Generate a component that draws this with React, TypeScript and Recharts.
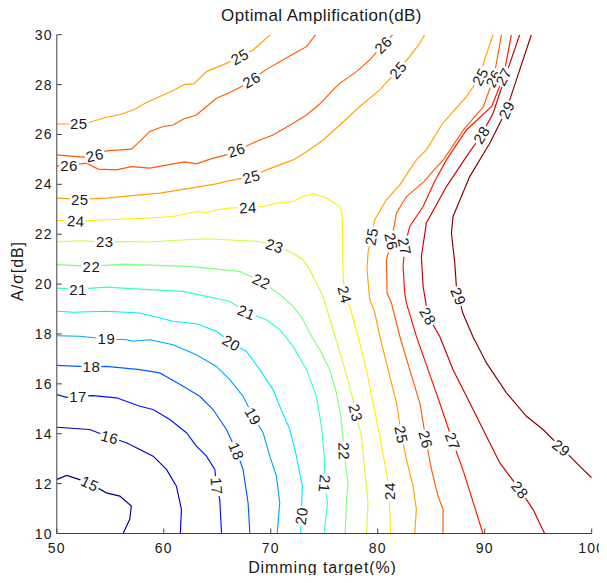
import React from 'react';
import { ComposedChart, Line, Scatter, XAxis, YAxis } from 'recharts';

type P = [number, number];

const xTicks = [50, 60, 70, 80, 90, 100];
const yTicks = [10, 12, 14, 16, 18, 20, 22, 24, 26, 28, 30];

const c15: P[] = [[50,12.17],[50.93,12.33],[52.2,12.15],[53.08,12.0],[54.64,11.63],[55.89,11.5],[56.97,11.1],[56.82,10.57],[56.2,10]];
const c16: P[] = [[50,14.26],[53.08,14.17],[54.95,13.86],[56.51,13.64],[57.76,13.37],[59,13.1],[60.25,12.57],[61.18,11.9],[61.65,10.97],[61.55,10]];
const c17: P[] = [[50,15.57],[50.93,15.46],[51.99,15.5],[53.39,15.53],[55.58,15.44],[57.76,15.1],[59,14.97],[60.56,14.57],[62.12,14.04],[63.05,13.5],[63.99,13.1],[64.77,12.57],[64.95,11.9],[65.23,11.37],[65.4,10]];
const c18: P[] = [[50,16.74],[53.24,16.68],[54.64,16.7],[57.76,16.57],[59.63,16.44],[61.81,15.9],[63.36,15.5],[64.61,14.97],[65.86,14.17],[66.8,13.3],[67.41,12.57],[67.88,11.23],[68.05,10]];
const c19: P[] = [[50,17.93],[52.15,17.91],[54.64,17.8],[56.51,17.77],[57.13,17.71],[58.69,17.77],[60.87,17.57],[63.05,17.17],[64.92,16.7],[66.17,16.17],[67.41,15.5],[68.35,14.7],[69.29,14.04],[69.91,13.1],[70.53,12.3],[70.84,11.23],[70.6,10]];
const c20: P[] = [[50,18.91],[51.53,18.87],[54.64,18.91],[57.76,18.84],[60.87,18.51],[63.05,18.41],[64.92,18.11],[66.33,17.64],[67.73,17.3],[68.97,16.57],[70.22,15.77],[70.84,15.1],[71.78,14.17],[72.4,13.1],[72.95,11.9],[72.85,10.7],[72.8,10]];
const c21: P[] = [[50,19.84],[51.99,19.8],[54.64,19.88],[57.76,19.8],[61.81,19.71],[63.99,19.51],[66.17,19.31],[67.73,18.87],[69.6,18.57],[70.84,18.17],[72.09,17.5],[73.34,16.57],[74.27,15.5],[74.74,14.3],[75,13.1],[75.05,12],[75.3,11.23],[75,10]];
const c22: P[] = [[50,20.78],[53.24,20.71],[56.2,20.8],[59.32,20.75],[62.43,20.71],[64.92,20.6],[67.1,20.51],[69.13,20.11],[70.84,19.58],[72.09,19.11],[73.03,18.57],[73.64,18.04],[74.58,17.37],[75.51,16.57],[76.14,15.64],[76.6,14.57],[76.85,13.3],[77.22,12.03],[77.07,11.23],[76.95,10]];
const c23: P[] = [[50,21.69],[52.15,21.74],[54.49,21.7],[56.51,21.71],[58.69,21.69],[60.87,21.75],[63.99,21.82],[67.1,21.75],[68.97,21.71],[70.37,21.54],[71.78,21.31],[73.03,20.98],[73.64,20.58],[74.27,20.04],[74.89,19.51],[75.82,18.18],[76.76,16.84],[77.54,15.64],[77.95,14.84],[78.47,13.9],[78.78,12.57],[79.09,11.23],[78.95,10]];
const c24: P[] = [[50,22.55],[51.78,22.53],[53.08,22.55],[56.2,22.61],[58.69,22.65],[60.87,22.71],[63.05,22.91],[63.99,22.87],[64.92,22.98],[66.17,23.05],[67.88,23.07],[69.29,23.11],[70.84,23.27],[72.09,23.31],[73.03,23.51],[73.96,23.62],[75.21,23.45],[76.45,23.11],[76.65,22.9],[76.7,22.31],[76.76,20.31],[76.92,19.58],[77.38,19.11],[78.16,17.91],[78.94,16.57],[79.56,15.24],[80.19,13.9],[80.65,12.84],[81.1,11.7],[81.12,10.97],[81.2,10]];
const c25a: P[] = [[50,26.42],[52.06,26.42],[52.78,26.45],[54.64,26.69],[55.89,26.79],[57.29,27.01],[58.38,27.28],[59.63,27.52],[60.87,27.76],[61.96,28.01],[62.8,28.03],[63.99,28.52],[65.86,28.85],[67.1,29.12],[68.35,29.39],[69.91,29.98],[69.95,30]];
const c25b: P[] = [[50,23.45],[52.15,23.41],[53.08,23.42],[54.64,23.45],[57.76,23.58],[59.63,23.65],[61.5,23.78],[63.36,23.91],[64.92,24.02],[66.17,24.15],[68.19,24.31],[69.6,24.58],[70.84,24.78],[72.09,24.98],[73.34,25.31],[74.9,25.78],[76.45,26.38],[78.32,27.12],[80.19,27.79],[81.9,28.59],[82.99,29.12],[83.93,29.66],[84.39,30]];
const c25c: P[] = [[90.78,30],[90.0,29.02],[89.57,28.32],[88.29,27.52],[87.0,26.9],[86.0,26.4],[84.55,25.38],[83.61,24.98],[82.99,24.58],[82.06,23.98],[80.81,23.38],[79.72,22.58],[79.41,21.91],[79.09,21.25],[79.0,20.58],[79.25,19.38],[79.7,18.9],[80.19,17.91],[80.97,16.57],[81.75,15.24],[82.21,13.97],[82.68,12.97],[83.3,11.9],[83.61,10.97],[83.46,10]];
const c26a: P[] = [[50,25.18],[52.46,25.09],[53.55,25.17],[54.64,25.34],[56.97,25.41],[57.76,25.72],[58.69,26.12],[59.93,26.32],[60.87,26.38],[61.81,26.61],[63.05,26.78],[63.99,27.12],[64.92,27.45],[66.17,27.68],[67.41,27.95],[68.19,28.19],[69.6,28.61],[70.84,28.92],[72.09,29.23],[73.34,29.52],[74.2,30]];
const c26b: P[] = [[50,24.74],[51.15,24.76],[52.78,24.85],[53.86,24.61],[55.58,24.58],[56.97,24.71],[58.69,24.65],[60.87,24.82],[61.96,24.9],[63.05,24.82],[64.61,25.05],[65.86,25.18],[66.79,25.38],[67.73,25.54],[68.97,25.78],[70.22,25.98],[72.09,26.45],[73.34,26.78],[74.58,27.22],[75.83,27.79],[76.45,28.05],[78.01,28.52],[79.25,28.99],[80.5,29.59],[81.4,30]];
const c26c: P[] = [[91.56,30],[91.2,29.1],[90.82,28.25],[89.88,27.12],[88.01,26.18],[86.14,24.98],[85.2,24.55],[84.3,24.1],[82.68,23.51],[81.75,22.85],[81.28,21.71],[80.81,20.98],[80.87,19.64],[81.28,19.24],[82.06,17.91],[82.99,16.57],[83.93,15.24],[84.5,13.77],[85.02,12.57],[85.64,11.5],[86.1,10.97],[86.1,10]];
const c27: P[] = [[92.49,30],[92.1,29.1],[91.75,28.32],[90.65,27.12],[88.29,26.18],[86.42,24.98],[85.3,24.1],[84.24,23.11],[82.99,22.31],[82.52,21.51],[82.37,20.71],[82.52,19.64],[82.68,19.24],[83.61,17.91],[84.7,16.57],[85.79,15.24],[87.0,13.7],[87.95,12.57],[88.74,11.5],[89.83,10]];
const c28: P[] = [[93.27,30],[92.03,28.45],[90.78,26.85],[89.69,25.98],[88.29,25.11],[86.42,23.91],[84.55,22.45],[84.08,21.11],[84.24,19.91],[84.7,18.71],[85.79,17.91],[87.04,16.57],[88.6,15.24],[90.16,13.9],[91.4,12.84],[93.3,11.75],[94.51,10.97],[95.6,10]];
const c29: P[] = [[94.36,30],[92.96,28.19],[92.03,26.98],[90.47,25.65],[88.6,24.31],[87.04,22.71],[86.89,22.05],[87.2,20.85],[87.35,19.91],[87.55,19.51],[87.95,18.84],[88.88,17.91],[90.16,16.84],[92.03,15.64],[93.9,14.7],[95.45,14.17],[97.17,13.43],[98.88,12.7],[100,12.23]];

const contours: { level: number; pts: P[] }[] = [
  { level: 15, pts: c15 }, { level: 16, pts: c16 }, { level: 17, pts: c17 },
  { level: 18, pts: c18 }, { level: 19, pts: c19 }, { level: 20, pts: c20 },
  { level: 21, pts: c21 }, { level: 22, pts: c22 }, { level: 23, pts: c23 },
  { level: 24, pts: c24 }, { level: 25, pts: c25a }, { level: 25, pts: c25b },
  { level: 25, pts: c25c }, { level: 26, pts: c26a }, { level: 26, pts: c26b },
  { level: 26, pts: c26c }, { level: 27, pts: c27 }, { level: 28, pts: c28 },
  { level: 29, pts: c29 },
];

// [x, y, level, rotation]
const labels: [number, number, number, number][] = [
  [52.06,26.42,25,0],[51.15,24.76,26,0],[53.55,25.17,26,-12],[52.15,23.41,25,0],
  [51.78,22.53,24,3],[54.49,21.7,23,0],[53.24,20.71,22,0],[51.99,19.8,21,0],
  [54.64,17.8,19,0],[53.24,16.68,18,0],[51.99,15.5,17,0],[54.95,13.86,16,15],
  [53.08,12.0,15,25],[67.1,29.12,25,-30],[68.19,28.19,26,-30],[66.79,25.38,26,-18],
  [68.19,24.31,25,-15],[67.88,23.07,24,-3],[70.37,21.54,23,18],[69.13,20.11,22,25],
  [67.73,18.87,21,22],[66.33,17.64,20,30],[68.35,14.7,19,60],[66.8,13.3,18,68],
  [64.95,11.9,17,85],[72.85,10.7,20,-82],[75.05,12.0,21,95],[76.85,13.3,22,88],
  [77.95,14.84,23,75],[76.92,19.58,24,75],[81.1,11.7,24,-90],[82.21,13.97,25,78],
  [84.5,13.77,26,75],[87.0,13.7,27,70],[84.7,18.71,28,60],[87.55,19.51,29,68],
  [93.3,11.75,28,50],[97.17,13.43,29,38],[79.41,21.91,25,-80],[81.28,21.71,26,78],
  [82.52,21.51,27,78],[81.9,28.59,25,-50],[80.5,29.59,26,-45],[89.57,28.32,25,-62],
  [90.82,28.25,26,-62],[91.75,28.32,27,-62],[89.69,25.98,28,-58],[92.03,26.98,29,-65],
];

const clamp = (v: number) => Math.max(0, Math.min(1, v));
const jet = (v: number) => {
  const t = (v - 15) / 14;
  const r = clamp(1.5 - Math.abs(4 * t - 3));
  const g = clamp(1.5 - Math.abs(4 * t - 2));
  const b = clamp(1.5 - Math.abs(4 * t - 1));
  const h = (c: number) => Math.round(c * 255).toString(16).padStart(2, '0');
  return `#${h(r)}${h(g)}${h(b)}`;
};

const FONT = '"Liberation Sans", Arial, Helvetica, sans-serif';
const AX = '#404040';
const TXT = '#1a1a1a';

const labelData = labels.map(([x, y, t, r]) => ({ x, y, t, r }));

const BottomTick = (p: any) => (
  <g>
    <line x1={p.x} x2={p.x} y1={p.y} y2={p.y - 5} stroke={AX} />
    <text x={p.x} y={p.y + 19} textAnchor="middle" fontSize={14} letterSpacing={1.2} fill={TXT} fontFamily={FONT}>
      {p.payload.value}
    </text>
  </g>
);
const TopTick = (p: any) => (
  <line x1={p.x} x2={p.x} y1={p.y} y2={p.y + 5} stroke={AX} />
);
const LeftTick = (p: any) => (
  <g>
    <line x1={p.x} x2={p.x + 5} y1={p.y} y2={p.y} stroke={AX} />
    <text x={p.x - 4} y={p.y + 5} textAnchor="end" fontSize={14} letterSpacing={1.2} fill={TXT} fontFamily={FONT}>
      {p.payload.value}
    </text>
  </g>
);
const RightTick = (p: any) => (
  <line x1={p.x} x2={p.x - 5} y1={p.y} y2={p.y} stroke={AX} />
);

const LabelShape = (props: any) => {
  const { cx, cy, payload } = props;
  if (cx == null || cy == null) return <g />;
  return (
    <g transform={`translate(${cx},${cy}) rotate(${payload.r})`}>
      <rect x={-10} y={-6.5} width={20} height={13} fill="#ffffff" />
      <text x={0} y={0} textAnchor="middle" dominantBaseline="central" fontSize={15} letterSpacing={0.5} fill={TXT} fontFamily={FONT}>
        {payload.t}
      </text>
    </g>
  );
};

export default function App() {
  return (
    <div style={{ position: 'relative', width: 599, height: 567 }}>
      <ComposedChart width={599} height={567} margin={{ top: 26.7, right: 15.3, bottom: 11.5, left: 8.8 }}>
        <XAxis dataKey="x" type="number" domain={[50, 100]} allowDataOverflow ticks={xTicks} interval={0}
          height={30} tickSize={0} tickMargin={0} tickLine={false} tick={<BottomTick />} axisLine={{ stroke: AX }} />
        <XAxis xAxisId="top" orientation="top" type="number" domain={[50, 100]} allowDataOverflow ticks={xTicks}
          interval={0} height={0} tickSize={0} tickMargin={0} tickLine={false} tick={<TopTick />} axisLine={{ stroke: AX }} />
        <YAxis type="number" domain={[10, 30]} allowDataOverflow ticks={yTicks} interval={0} width={40}
          tickSize={0} tickMargin={0} tickLine={false} tick={<LeftTick />} axisLine={{ stroke: AX }} />
        <YAxis yAxisId="right" orientation="right" type="number" domain={[10, 30]} allowDataOverflow ticks={yTicks}
          interval={0} width={0} tickSize={0} tickMargin={0} tickLine={false} tick={<RightTick />} axisLine={{ stroke: AX }} />
        {contours.map((c, i) => (
          <Line key={`c${i}`} data={c.pts.map(([x, y]) => ({ x, y }))} dataKey="y" type="linear"
            stroke={jet(c.level)} strokeWidth={1.15} dot={false} activeDot={false} isAnimationActive={false} />
        ))}
        <Scatter data={labelData} dataKey="y" shape={<LabelShape />} isAnimationActive={false} />
      </ComposedChart>
      <svg width={599} height={580} style={{ position: 'absolute', left: 0, top: 0, pointerEvents: 'none', overflow: 'visible' }}>
        <text x={313.5} y={13} textAnchor="middle" fontSize={17} letterSpacing={0.4} fill={TXT} fontFamily={FONT}>
          Optimal Amplification(dB)
        </text>
        <text x={314.5} y={565} textAnchor="middle" fontSize={16} letterSpacing={0.9} fill={TXT} fontFamily={FONT}>
          Dimming target(%)
        </text>
        <text transform="translate(14.7,263) rotate(-90)" textAnchor="middle" fontSize={16} letterSpacing={0.9} fill={TXT} fontFamily={FONT}>
          A/σ[dB]
        </text>
      </svg>
    </div>
  );
}
